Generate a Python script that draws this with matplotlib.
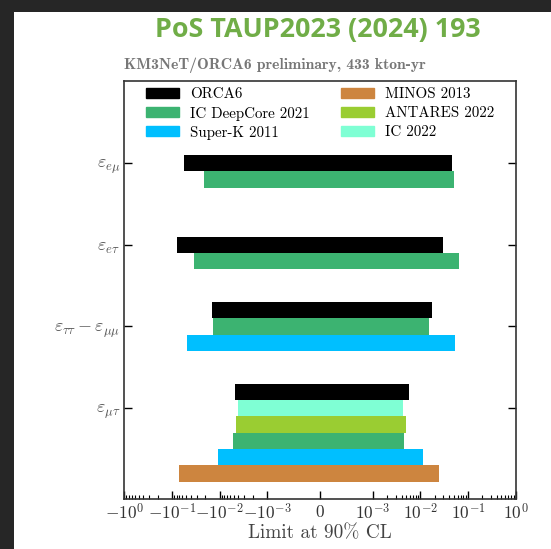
import numpy as np
import matplotlib
matplotlib.use("Agg")
import matplotlib.pyplot as plt
from matplotlib.patches import Rectangle, Patch
from matplotlib.ticker import SymmetricalLogLocator

# NSI parameters (top to bottom)
params = [r'$\varepsilon_{e\mu}$', r'$\varepsilon_{e\tau}$',
          r'$\varepsilon_{\tau\tau}-\varepsilon_{\mu\mu}$', r'$\varepsilon_{\mu\tau}$']
param_y = [3, 2, 1, 0]

# x axis ticks and their labels
xticks = [-1, -1e-1, -1e-2, -1e-3, 0, 1e-3, 1e-2, 1e-1, 1]
xtick_labels = [r'$-10^{0}$', r'$-10^{-1}$', r'$-10^{-2}$', r'$-10^{-3}$', r'$0$',
                r'$10^{-3}$', r'$10^{-2}$', r'$10^{-1}$', r'$10^{0}$']

# 90% CL intervals, one entry per parameter (None = no result)
orca6_lo = [-5.6e-2, -7.9e-2, -1.46e-2, -4.7e-3]
orca6_hi = [4.5e-2, 3.0e-2, 1.77e-2, 5.6e-3]
icdc_lo = [-2.1e-2, -3.4e-2, -1.35e-2, -5.3e-3]
icdc_hi = [5.1e-2, 6.4e-2, 1.53e-2, 4.6e-3]
superk_lo = [None, None, -4.9e-2, -1.1e-2]
superk_hi = [None, None, 5.4e-2, 1.15e-2]
minos_lo = [None, None, None, -7.0e-2]
minos_hi = [None, None, None, 2.5e-2]
antares_lo = [None, None, None, -4.5e-3]
antares_hi = [None, None, None, 5.0e-3]
ic22_lo = [None, None, None, -4.0e-3]
ic22_hi = [None, None, None, 4.2e-3]

experiments = {
    'ORCA6': (orca6_lo, orca6_hi, 'black'),
    'IC DeepCore 2021': (icdc_lo, icdc_hi, '#3cb371'),
    'Super-K 2011': (superk_lo, superk_hi, '#00bfff'),
    'MINOS 2013': (minos_lo, minos_hi, '#cd853f'),
    'ANTARES 2022': (antares_lo, antares_hi, '#9acd32'),
    'IC 2022': (ic22_lo, ic22_hi, '#7fffd4'),
}

# order of the bars inside each parameter group
stack = [
    ['ORCA6', 'IC DeepCore 2021'],
    ['ORCA6', 'IC DeepCore 2021'],
    ['ORCA6', 'IC DeepCore 2021', 'Super-K 2011'],
    ['ORCA6', 'IC 2022', 'ANTARES 2022', 'IC DeepCore 2021', 'Super-K 2011', 'MINOS 2013'],
]
first_slot = [0, 0, -1, -1]
bar_h = 0.2

plt.rcParams['mathtext.fontset'] = 'cm'

fig = plt.figure(figsize=(5.51, 5.49), dpi=100, facecolor='#262626')
# white page area
fig.patches.append(Rectangle((14 / 551, 0), 1, 1 - 12 / 549, transform=fig.transFigure,
                             facecolor='white', edgecolor='none', zorder=-10))

ax = fig.add_axes([124.3 / 551, 1 - 499 / 549, 391.4 / 551, 418 / 549])
ax.set_facecolor('white')

for i, names in enumerate(stack):
    for k, name in enumerate(names):
        lo, hi, col = experiments[name]
        yc = param_y[i] - (first_slot[i] + k) * bar_h
        ax.barh(yc, hi[i] - lo[i], left=lo[i], height=bar_h, color=col, linewidth=0)

ax.set_xscale('symlog', linthresh=1e-3)
ax.set_xlim(-1, 1)
ax.set_ylim(-1.114, 4.005)
ax.set_xticks(xticks)
ax.set_xticklabels(xtick_labels)
ax.xaxis.set_minor_locator(SymmetricalLogLocator(linthresh=1e-3, base=10, subs=np.arange(2, 10)))
ax.set_yticks(param_y)
ax.set_yticklabels(params, fontsize=13, color='#555555')

ax.tick_params(axis='x', which='both', direction='in', top=False, labelsize=12.5,
               labelcolor='#333333', pad=3)
ax.tick_params(axis='x', which='major', length=6, width=1)
ax.tick_params(axis='x', which='minor', length=3, width=0.8)
ax.tick_params(axis='y', which='both', direction='in', left=True, right=True,
               length=6, width=1, pad=3)
for s in ax.spines.values():
    s.set_color('#333333')
    s.set_linewidth(1.2)

ax.set_xlabel('Limit at 90% CL', fontsize=13.9, family='cmr10', color='#444444', labelpad=1)

handles = [Patch(color=experiments[n][2], label=n) for n in
           ['ORCA6', 'IC DeepCore 2021', 'Super-K 2011', 'MINOS 2013', 'ANTARES 2022', 'IC 2022']]
ax.legend(handles=handles, ncol=2, loc='upper center', bbox_to_anchor=(0.5, 1.0),
          frameon=False, prop={'family': 'cmr10', 'size': 10.8}, handlelength=2.2,
          handleheight=0.65, columnspacing=2.1, labelspacing=0.34, handletextpad=0.75,
          borderaxespad=0.0, borderpad=0.45)

ax.text(0, 1.018, 'KM3NeT/ORCA6 preliminary, 433 kton-yr', transform=ax.transAxes,
        family='cmb10', fontsize=11.3, color='#777777', ha='left', va='bottom')

fig.text(318 / 551, 1 - 30 / 549, 'PoS TAUP2023 (2024) 193', family='Open Sans',
         weight='bold', fontsize=19.4, color='#70ad47', ha='center', va='center')

fig.savefig('out.png', dpi=100, facecolor=fig.get_facecolor())
